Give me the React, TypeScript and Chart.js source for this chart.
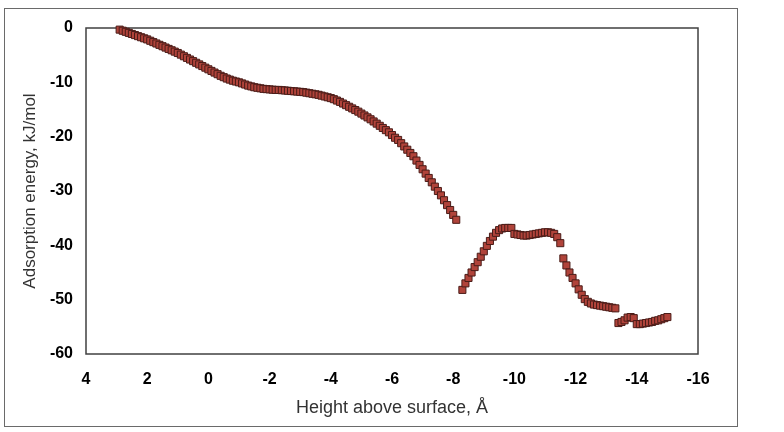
import React, { useEffect, useRef } from "react";
import { Chart, registerables } from "chart.js";

Chart.register(...registerables);

// Segment 1: continuous descent
const seg1X = [
  2.9, 2.8, 2.7, 2.6, 2.5, 2.4, 2.3, 2.2, 2.1, 2.0,
  1.9, 1.8, 1.7, 1.6, 1.5, 1.4, 1.3, 1.2, 1.1, 1.0,
  0.9, 0.8, 0.7, 0.6, 0.5, 0.4, 0.3, 0.2, 0.1, 0.0,
  -0.1, -0.2, -0.3, -0.4, -0.5, -0.6, -0.7, -0.8, -0.9, -1.0,
  -1.1, -1.2, -1.3, -1.4, -1.5, -1.6, -1.7, -1.8, -1.9, -2.0,
  -2.1, -2.2, -2.3, -2.4, -2.5, -2.6, -2.7, -2.8, -2.9, -3.0,
  -3.1, -3.2, -3.3, -3.4, -3.5, -3.6, -3.7, -3.8, -3.9, -4.0,
  -4.1, -4.2, -4.3, -4.4, -4.5, -4.6, -4.7, -4.8, -4.9, -5.0,
  -5.1, -5.2, -5.3, -5.4, -5.5, -5.6, -5.7, -5.8, -5.9, -6.0,
  -6.1, -6.2, -6.3, -6.4, -6.5, -6.6, -6.7, -6.8, -6.9, -7.0,
  -7.1, -7.2, -7.3, -7.4, -7.5, -7.6, -7.7, -7.8, -7.9, -8.0,
  -8.1,
];
const seg1Y = [
  -0.3, -0.5, -0.7, -0.9, -1.1, -1.3, -1.5, -1.7, -1.9, -2.1,
  -2.35, -2.6, -2.85, -3.1, -3.35, -3.6, -3.85, -4.1, -4.35, -4.6,
  -4.9, -5.2, -5.5, -5.8, -6.1, -6.4, -6.7, -7.0, -7.3, -7.6,
  -7.9, -8.2, -8.5, -8.8, -9.05, -9.3, -9.5, -9.7, -9.85, -10.0,
  -10.2, -10.4, -10.6, -10.75, -10.9, -11.0, -11.1, -11.2, -11.25, -11.3,
  -11.35, -11.4, -11.4, -11.45, -11.5, -11.55, -11.6, -11.65, -11.7, -11.75,
  -11.8, -11.9, -12.0, -12.1, -12.2, -12.3, -12.45, -12.6, -12.75, -12.9,
  -13.1, -13.35, -13.6, -13.9, -14.2, -14.5, -14.8, -15.1, -15.4, -15.75,
  -16.1, -16.45, -16.8, -17.2, -17.6, -18.0, -18.4, -18.8, -19.2, -19.7,
  -20.2, -20.6, -21.2, -21.8, -22.4, -23.0, -23.6, -24.4, -25.2, -26.0,
  -26.8, -27.6, -28.4, -29.2, -30.0, -30.8, -31.7, -32.6, -33.5, -34.4,
  -35.3,
];

// Segment 2: rise, plateau and second descent
const seg2X = [
  -8.3, -8.4, -8.5, -8.6, -8.7, -8.8, -8.9, -9.0, -9.1, -9.2,
  -9.3, -9.4, -9.5, -9.6, -9.7, -9.8, -9.9, -10.0, -10.1, -10.2,
  -10.3, -10.4, -10.5, -10.6, -10.7, -10.8, -10.9, -11.0, -11.1, -11.2,
  -11.3, -11.4, -11.5, -11.6, -11.7, -11.8, -11.9, -12.0, -12.1, -12.2,
  -12.3, -12.4, -12.5, -12.6, -12.7, -12.8, -12.9, -13.0, -13.1, -13.2,
  -13.3,
];
const seg2Y = [
  -48.2, -47.0, -46.0, -45.0, -44.0, -43.1, -42.1, -41.1, -40.1, -39.2,
  -38.4, -37.7, -37.2, -36.9, -36.8, -36.8, -36.8, -37.9, -38.0, -38.1,
  -38.2, -38.2, -38.1, -38.0, -37.9, -37.8, -37.7, -37.6, -37.6, -37.7,
  -37.9, -38.5, -39.6, -42.4, -43.7, -45.0, -46.0, -47.0, -48.1, -49.1,
  -49.9, -50.4, -50.7, -50.9, -51.0, -51.1, -51.2, -51.3, -51.4, -51.5,
  -51.6,
];

// Segment 3: final low tail
const seg3X = [
  -13.4, -13.5, -13.6, -13.7, -13.8, -13.9, -14.0, -14.1, -14.2, -14.3,
  -14.4, -14.5, -14.6, -14.7, -14.8, -14.9, -15.0,
];
const seg3Y = [
  -54.3, -54.1, -53.8, -53.3, -53.2, -53.4, -54.5, -54.5, -54.4, -54.3,
  -54.2, -54.1, -53.9, -53.8, -53.6, -53.4, -53.2,
];

const xTitle = "Height above surface, Å";
const yTitle = "Adsorption energy, kJ/mol";

const FONT = "Arial, 'Liberation Sans', sans-serif";

const toPoints = (xs: number[], ys: number[]) => xs.map((x, i) => ({ x, y: ys[i] }));

const frames = {
  id: "frames",
  beforeDraw(chart: any) {
    const { ctx } = chart;
    ctx.save();
    ctx.fillStyle = "#ffffff";
    ctx.fillRect(0, 0, chart.width, chart.height);
    ctx.strokeStyle = "#6a6a6a";
    ctx.lineWidth = 1;
    ctx.strokeRect(4.5, 8.5, 733, 418);
    ctx.restore();
  },
  beforeDatasetsDraw(chart: any) {
    const { ctx, chartArea: a } = chart;
    ctx.save();
    ctx.strokeStyle = "#404040";
    ctx.lineWidth = 1.5;
    ctx.strokeRect(a.left, a.top, a.right - a.left, a.bottom - a.top);
    ctx.restore();
  },
};

export default function App() {
  const ref = useRef<HTMLCanvasElement | null>(null);
  useEffect(() => {
    if (!ref.current) return;
    const style = {
      pointStyle: "rect" as const,
      pointRadius: 5,
      pointHoverRadius: 5,
      backgroundColor: "#b0433a",
      borderColor: "#4a1c18",
      pointBorderWidth: 1,
      showLine: false,
      clip: false as any,
    };
    const chart = new Chart(ref.current, {
      type: "scatter",
      data: {
        datasets: [
          { data: toPoints(seg1X, seg1Y), ...style },
          { data: toPoints(seg2X, seg2Y), ...style },
          { data: toPoints(seg3X, seg3Y), ...style },
        ],
      },
      options: {
        animation: false,
        responsive: false,
        devicePixelRatio: 1,
        layout: { padding: { top: 28, right: 86, left: 0, bottom: 0 } },
        plugins: { legend: { display: false }, tooltip: { enabled: false } },
        scales: {
          x: {
            type: "linear",
            min: -16,
            max: 4,
            reverse: true,
            border: { display: false },
            grid: { display: false, drawTicks: false },
            ticks: {
              stepSize: 2,
              padding: 16,
              color: "#000",
              font: { family: FONT, size: 16, weight: "bold" },
            },
            title: {
              display: true,
              text: xTitle,
              color: "#333",
              font: { family: FONT, size: 18, weight: "normal" },
              padding: { top: 0, bottom: 13 },
            },
            afterFit: (s: any) => {
              s.height = 78;
            },
          },
          y: {
            type: "linear",
            min: -60,
            max: 0,
            border: { display: false },
            grid: { display: false, drawTicks: false },
            ticks: {
              stepSize: 10,
              padding: 13,
              color: "#000",
              font: { family: FONT, size: 16, weight: "bold" },
            },
            title: {
              display: true,
              text: yTitle,
              color: "#333",
              font: { family: FONT, size: 17, weight: "normal" },
              padding: { top: 20, bottom: 0 },
            },
            afterFit: (s: any) => {
              s.width = 86;
            },
          },
        },
      },
      plugins: [frames],
    });
    return () => chart.destroy();
  }, []);
  return (
    <div style={{ position: "absolute", left: 0, top: 0, width: 784, height: 432, background: "#fff" }}>
      <canvas ref={ref} width={784} height={432} style={{ display: "block", width: 784, height: 432 }} />
    </div>
  );
}
